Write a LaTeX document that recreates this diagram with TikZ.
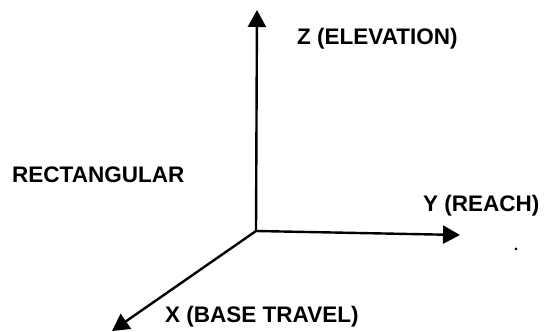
\documentclass[tikz,border=0pt]{standalone}
\usepackage{fontspec}
\setmainfont{Liberation Sans}
\usepackage{tikz}
\usetikzlibrary{arrows.meta, positioning}

\begin{document}
\begin{tikzpicture}[x=1pt, y=1pt,
    axis/.style={line width=2.4pt, -{Triangle[length=17pt,width=18pt]}},
    lbl/.style={anchor=base west, inner sep=0pt, font=\fontsize{22.5}{27}\selectfont\bfseries}]
  \useasboundingbox (0,0) rectangle (550,332);
  \coordinate (o) at (256,101);
  \coordinate (ztip) at (257,322);
  \coordinate (ytip) at (460,97);
  \coordinate (xtip) at (112,1);
  \draw[axis] (o) -- (ztip);
  \draw[axis] (o) -- (ytip);
  \draw[axis] (o) -- (xtip);
  \node[lbl] (zlabel) at (297,287) {Z (ELEVATION)};
  \node[lbl] (ylabel) at (423,120) {Y (REACH)};
  \node[lbl] (xlabel) at (165,9) {X (BASE TRAVEL)};
  \node[lbl] (kind) at (12,149) {RECTANGULAR};
  \fill (516,83) circle (1.5pt);
\end{tikzpicture}
\end{document}
